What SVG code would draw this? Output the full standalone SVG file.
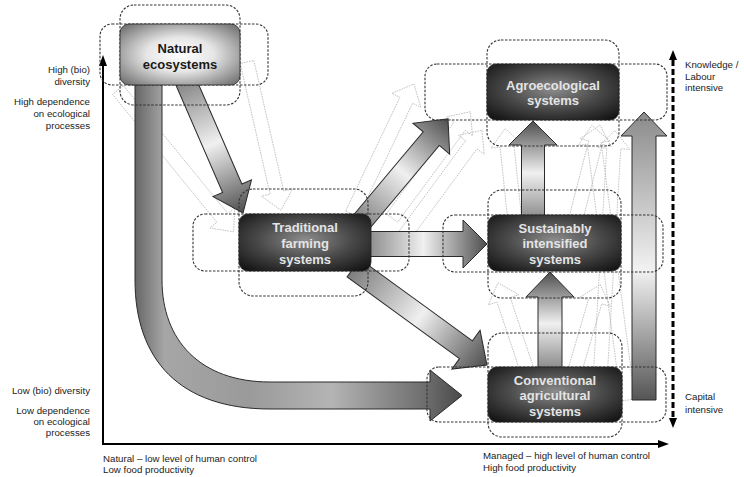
<svg xmlns="http://www.w3.org/2000/svg" width="744" height="477" viewBox="0 0 744 477">
<defs>
<style>
.dz{fill:none;stroke:#333;stroke-width:1.1;stroke-dasharray:2.5 1.5}
.box{stroke:#222;stroke-width:0.8}
.nt{font-family:"Liberation Sans",Arial,sans-serif;font-size:13px;font-weight:bold;text-anchor:middle;fill:#e4e4e4}
.lb{font-family:"Liberation Sans",Arial,sans-serif;font-size:9.7px;fill:#222}
.r{text-anchor:end}
.big{stroke:#2a2a2a;stroke-width:1;stroke-linejoin:miter}
.gh{fill:none;stroke:#b8b8b8;stroke-width:0.8;stroke-dasharray:1.6 1}
</style>
<radialGradient id="dark" cx="50%" cy="45%" r="70%">
<stop offset="0" stop-color="#8c8c8c"/>
<stop offset="0.5" stop-color="#4a4a4a"/>
<stop offset="1" stop-color="#121212"/>
</radialGradient>
<radialGradient id="light" cx="50%" cy="50%" r="70%">
<stop offset="0" stop-color="#ffffff"/>
<stop offset="0.4" stop-color="#e6e6e6"/>
<stop offset="1" stop-color="#666"/>
</radialGradient>
<linearGradient id="ag" x1="0" y1="0" x2="1" y2="0">
<stop offset="0" stop-color="#7c7c7c"/>
<stop offset="0.5" stop-color="#f0f0f0"/>
<stop offset="1" stop-color="#4e4e4e"/>
</linearGradient>
<linearGradient id="ag8" x1="0" y1="0" x2="1" y2="0">
<stop offset="0" stop-color="#555"/>
<stop offset="0.45" stop-color="#f2f2f2"/>
<stop offset="1" stop-color="#8a8a8a"/>
</linearGradient>
<linearGradient id="cg" gradientUnits="userSpaceOnUse" x1="135" y1="0" x2="462" y2="0">
<stop offset="0" stop-color="#666"/>
<stop offset="0.09" stop-color="#a6a6a6"/>
<stop offset="0.35" stop-color="#9a9a9a"/>
<stop offset="0.6" stop-color="#b4b4b4"/>
<stop offset="0.9" stop-color="#6a6a6a"/>
<stop offset="1" stop-color="#4a4a4a"/>
</linearGradient>
</defs>
<rect width="744" height="477" fill="#fff"/>

<g id="axes">
<line x1="103" y1="445" x2="103" y2="63" stroke="#000" stroke-width="2"/>
<polygon points="103,55 99,66 107,66" fill="#000"/>
<line x1="102" y1="444" x2="660" y2="444" stroke="#000" stroke-width="2"/>
<polygon points="669,444 658,440 658,448" fill="#000"/>
<line x1="673" y1="60" x2="673" y2="420" stroke="#000" stroke-width="3" stroke-dasharray="6 3"/>
<polygon points="673,50 669,60 677,60" fill="#000"/>
<polygon points="673,428 669,418 677,418" fill="#000"/>
</g>

<g id="connectors">
<g id="ghosts">
<polygon class="gh" transform="translate(118,90) rotate(50.8)" points="0,-7 165,-7 165,-16 183,0 165,16 165,7 0,7"/>
<polygon class="gh" transform="translate(247,62) rotate(77.1)" points="0,-7 134,-7 134,-16 152,0 134,16 134,7 0,7"/>
<polygon class="gh" transform="translate(352,214) rotate(-64.5)" points="0,-7 126,-7 126,-16 144,0 126,16 126,7 0,7"/>
<polygon class="gh" transform="translate(392,218) rotate(-53.6)" points="0,-7 114,-7 114,-16 132,0 114,16 114,7 0,7"/>
<polygon class="gh" transform="translate(405,235) rotate(-53.7)" points="0,-7 112,-7 112,-16 130,0 112,16 112,7 0,7"/>
<polygon class="gh" transform="translate(575,222) rotate(-75.5)" points="0,-7 82,-7 82,-16 100,0 82,16 82,7 0,7"/>
<polygon class="gh" transform="translate(515,222) rotate(-96)" points="0,-7 76,-7 76,-16 94,0 76,16 76,7 0,7"/>
<polygon class="gh" transform="translate(527,370) rotate(-108.4)" points="0,-7 74,-7 74,-16 92,0 74,16 74,7 0,7"/>
<polygon class="gh" transform="translate(575,370) rotate(-73.6)" points="0,-7 71,-7 71,-16 89,0 71,16 71,7 0,7"/>
<polygon class="gh" transform="translate(628,400) rotate(-97.5)" points="0,-7 259,-7 259,-16 277,0 259,16 259,7 0,7"/>
<polygon class="gh" transform="translate(600,380) rotate(-86.6)" points="0,-7 232,-7 232,-16 250,0 232,16 232,7 0,7"/>
</g>
<path class="big" fill="url(#cg)" d="M135,80 L135,280 C135,360 180,409 270,409 L430,409 L430,421 L462,395.5 L430,370 L430,382 L270,382 C200,382 162,340 162,280 L162,80 Z"/>
<polygon class="big" fill="url(#ag)" transform="translate(183,75) rotate(66.5)" points="0,-10.5 123.5,-10.5 123.5,-21 150.5,0 123.5,21 123.5,10.5 0,10.5"/>
<polygon class="big" fill="url(#ag)" transform="translate(358,226) rotate(-50)" points="0,-10.5 114,-10.5 114,-24 140,0 114,24 114,10.5 0,10.5"/>
<polygon class="big" fill="url(#ag)" transform="translate(360,244)" points="0,-12.5 103,-12.5 103,-24 127,0 103,24 103,12.5 0,12.5"/>
<polygon class="big" fill="url(#ag)" transform="translate(353.5,268) rotate(36)" points="0,-11 139,-11 139,-24 165,0 139,24 139,11 0,11"/>
<polygon class="big" fill="url(#ag)" transform="translate(533,225) rotate(-90)" points="0,-11.5 80,-11.5 80,-24 104,0 80,24 80,11.5 0,11.5"/>
<polygon class="big" fill="url(#ag)" transform="translate(550,375) rotate(-90)" points="0,-12 78,-12 78,-24 103,0 78,24 78,12 0,12"/>
<polygon class="big" fill="url(#ag8)" transform="translate(644,400) rotate(-90)" points="0,-12 264,-12 264,-23 288,0 264,23 264,12 0,12"/>
</g>

<g id="natural">
<rect class="dz" x="120" y="5" width="120" height="100" rx="14"/>
<rect class="dz" x="100" y="24" width="168" height="61" rx="12"/>
<rect class="box" x="120" y="24" width="120" height="61" rx="9" fill="url(#light)"/>
<text class="nt" x="180" y="53" fill="#1a1a1a" style="fill:#1a1a1a">Natural</text>
<text class="nt" x="180" y="68.5" style="fill:#1a1a1a">ecosystems</text>
</g>

<g id="agroecological">
<rect class="dz" x="487" y="40" width="132" height="106" rx="14"/>
<rect class="dz" x="425" y="64" width="242" height="56" rx="12"/>
<rect class="box" x="487" y="64" width="132" height="56" rx="9" fill="url(#dark)"/>
<text class="nt" x="553" y="89.5">Agroecological</text>
<text class="nt" x="553" y="105">systems</text>
</g>

<g id="traditional">
<rect class="dz" x="239" y="189" width="129" height="107" rx="14"/>
<rect class="dz" x="193" y="214" width="216" height="57" rx="12"/>
<rect class="box" x="239" y="214" width="132" height="57" rx="9" fill="url(#dark)"/>
<text class="nt" x="305" y="231.5">Traditional</text>
<text class="nt" x="305" y="247.5">farming</text>
<text class="nt" x="305" y="263.5">systems</text>
</g>

<g id="sustainably">
<rect class="dz" x="488" y="190" width="133" height="108" rx="14"/>
<rect class="dz" x="443" y="215" width="220" height="57" rx="12"/>
<rect class="box" x="488" y="215" width="133" height="56" rx="9" fill="url(#dark)"/>
<text class="nt" x="555" y="232.5">Sustainably</text>
<text class="nt" x="555" y="248">intensified</text>
<text class="nt" x="555" y="263.5">systems</text>
</g>

<g id="conventional">
<rect class="dz" x="488" y="333" width="134" height="104" rx="14"/>
<rect class="dz" x="427" y="367" width="239" height="55" rx="12"/>
<rect class="box" x="488" y="367" width="134" height="55" rx="9" fill="url(#dark)"/>
<text class="nt" x="555" y="384.5">Conventional</text>
<text class="nt" x="555" y="400">agricultural</text>
<text class="nt" x="555" y="415.5">systems</text>
</g>

<g id="labels">
<text class="lb r" x="90" y="73">High (bio)</text>
<text class="lb r" x="90" y="85">diversity</text>
<text class="lb r" x="90" y="104.5">High dependence</text>
<text class="lb r" x="90" y="116.5">on ecological</text>
<text class="lb r" x="90" y="128.5">processes</text>
<text class="lb r" x="90" y="393.5">Low (bio) diversity</text>
<text class="lb r" x="90" y="413.5">Low dependence</text>
<text class="lb r" x="90" y="424.5">on ecological</text>
<text class="lb r" x="90" y="436">processes</text>
<text class="lb" x="103" y="461.5">Natural – low level of human control</text>
<text class="lb" x="103" y="472.5">Low food productivity</text>
<text class="lb" x="483" y="458.5">Managed – high level of human control</text>
<text class="lb" x="483" y="470.5">High food productivity</text>
<text class="lb" x="685" y="67.5">Knowledge /</text>
<text class="lb" x="685" y="79.5">Labour</text>
<text class="lb" x="685" y="90.5">intensive</text>
<text class="lb" x="685" y="400">Capital</text>
<text class="lb" x="685" y="412.5">intensive</text>
</g>
</svg>
